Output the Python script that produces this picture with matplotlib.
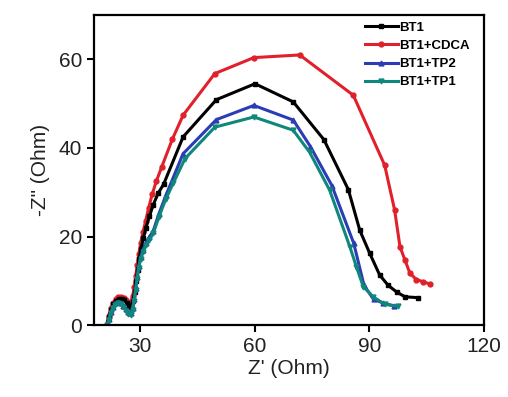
import matplotlib
matplotlib.use('Agg')
import matplotlib.pyplot as plt

plt.rcParams['font.family'] = ['Liberation Sans', 'DejaVu Sans']

# Nyquist data
bt1_x = [21.4, 21.9, 22.5, 23.1, 23.8, 24.5, 25.2, 25.9, 26.6, 27.2, 27.7, 28.2, 28.6, 29.0, 29.4,
         29.8, 30.3, 30.9, 31.6, 32.5, 33.5, 34.8, 36.2, 41.3, 50.0, 60.1, 70.1, 78.1, 84.5, 87.5,
         90.1, 92.7, 94.9, 97.1, 99.3, 102.8]
bt1_y = [0, 1.8, 3.5, 4.7, 5.5, 6.0, 6.0, 5.6, 5.0, 4.3, 4.2, 5.5, 7.5, 10.0, 12.5,
         15.0, 17.3, 19.6, 22.0, 24.6, 27.2, 29.8, 31.8, 42.5, 50.9, 54.5, 50.4, 41.9, 30.6, 21.4,
         16.2, 11.3, 9.0, 7.5, 6.4, 6.2]

cdca_x = [21.3, 21.8, 22.4, 23.0, 23.7, 24.4, 25.1, 25.8, 26.5, 27.1, 27.6, 28.1, 28.5, 28.9, 29.3,
          29.7, 30.2, 30.8, 31.5, 32.3, 33.2, 34.3, 35.7, 38.5, 41.3, 49.6, 59.8, 71.8, 85.8, 94.0,
          96.6, 98.0, 99.3, 100.6, 102.3, 104.0, 105.8]
cdca_y = [0, 2.0, 3.8, 5.0, 5.8, 6.3, 6.4, 6.1, 5.6, 5.0, 5.2, 6.5, 8.5, 11.0, 13.5,
          16.0, 18.5, 21.0, 23.5, 26.5, 29.5, 32.5, 35.7, 42.0, 47.4, 56.8, 60.4, 61.0, 51.9, 36.1,
          26.0, 17.7, 14.7, 11.7, 10.3, 9.8, 9.3]

tp2_x = [21.5, 21.9, 22.4, 23.0, 23.6, 24.3, 25.0, 25.7, 26.4, 27.0, 27.6, 28.1, 28.5, 28.9, 29.3,
         29.7, 30.2, 30.8, 31.6, 32.5, 33.5, 35.0, 36.8, 41.3, 50.0, 59.8, 70.1, 74.6, 80.2, 85.9,
         88.6, 91.1, 93.6, 96.5]
tp2_y = [0, 1.4, 3.0, 4.2, 4.9, 5.2, 5.0, 4.4, 3.6, 2.9, 2.7, 3.9, 5.9, 8.4, 10.9,
         13.4, 15.4, 17.0, 18.6, 19.9, 21.3, 25.2, 29.3, 38.7, 46.4, 49.6, 46.3, 40.3, 31.5, 18.5,
         9.0, 5.8, 5.0, 4.3]

tp1_x = [21.5, 21.9, 22.4, 23.0, 23.6, 24.3, 25.0, 25.7, 26.4, 27.0, 27.6, 28.1, 28.5, 28.9, 29.3,
         29.7, 30.2, 30.8, 31.6, 32.5, 33.5, 35.0, 36.8, 38.7, 41.8, 49.6, 59.8, 70.1, 74.4, 79.6,
         84.9, 86.6, 88.4, 91.0, 94.0, 97.5]
tp1_y = [0, 1.2, 2.8, 3.9, 4.6, 4.9, 4.7, 4.1, 3.3, 2.6, 2.3, 3.5, 5.5, 8.0, 10.5,
         13.0, 15.0, 16.5, 18.0, 19.3, 20.7, 24.5, 28.5, 32.0, 37.6, 44.7, 47.0, 44.0, 39.0, 30.5,
         17.7, 13.2, 8.7, 6.4, 4.7, 4.3]

series = [
    ('BT1', bt1_x, bt1_y, '#000000', 's'),
    ('BT1+CDCA', cdca_x, cdca_y, '#e0212b', 'o'),
    ('BT1+TP2', tp2_x, tp2_y, '#2b3db4', '^'),
    ('BT1+TP1', tp1_x, tp1_y, '#0f877a', 'v'),
]

fig = plt.figure(figsize=(5.08, 3.97), dpi=100)
ax = fig.add_axes([0.185, 0.181, 0.768, 0.781])

# draw CDCA first, then the rest on top as in the reference
for label, xs, ys, color, marker in [series[1], series[0], series[2], series[3]]:
    ax.plot(xs, ys, color=color, lw=2.2, marker=marker, ms=3.5, label=label)

ax.set_xlim(18, 120)
ax.set_ylim(0, 70)
ax.set_xticks([30, 60, 90, 120])
ax.set_yticks([0, 20, 40, 60])
ax.set_xlabel("Z' (Ohm)", fontsize=15, color='#222222', labelpad=2)
ax.set_ylabel('-Z" (Ohm)', fontsize=15, color='#222222', labelpad=6)
ax.tick_params(direction='out', length=5, width=1.5, labelsize=15, labelcolor='#222222')
for sp in ax.spines.values():
    sp.set_linewidth(1.6)

handles, labels = ax.get_legend_handles_labels()
order = [labels.index(n) for n in ['BT1', 'BT1+CDCA', 'BT1+TP2', 'BT1+TP1']]
ax.legend([handles[i] for i in order], [labels[i] for i in order],
          loc='upper right', frameon=False, handlelength=2.5,
          handletextpad=0.1, labelspacing=0.45, borderaxespad=0.1,
          bbox_to_anchor=(0.98, 1.0),
          prop={'weight': 'bold', 'size': 9.5})

fig.savefig('out.png', dpi=100)
